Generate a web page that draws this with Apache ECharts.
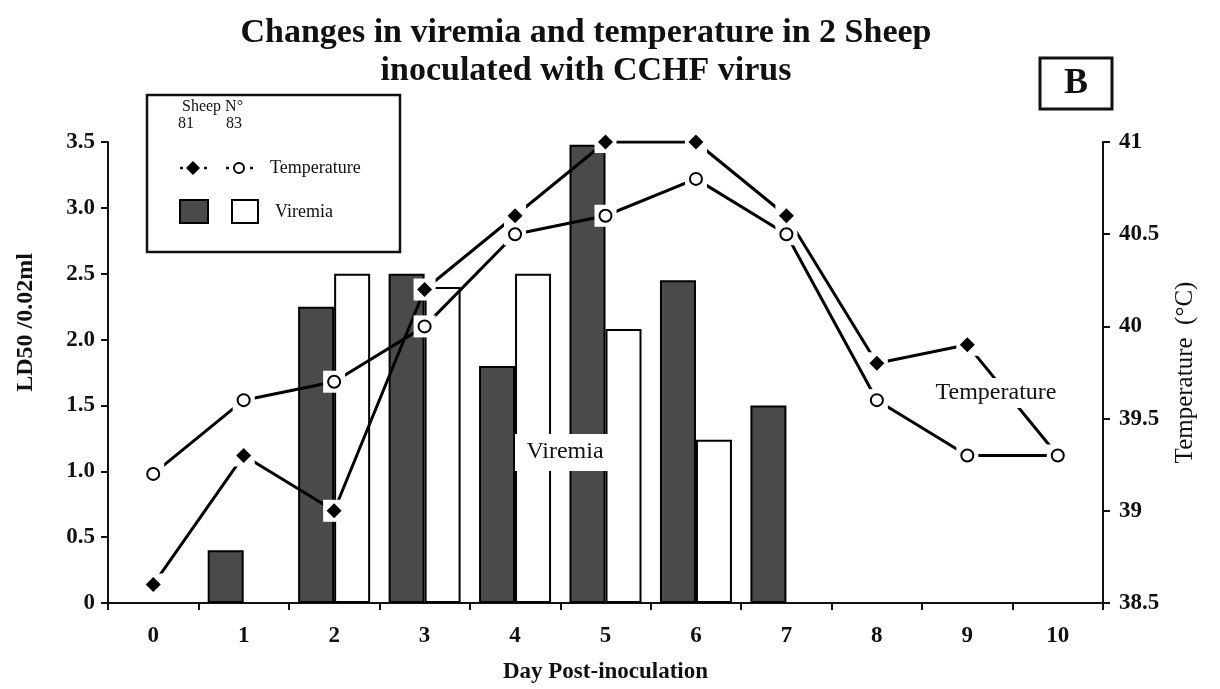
<!DOCTYPE html>
<html><head><meta charset="utf-8">
<script src="https://cdn.jsdelivr.net/npm/echarts@6/dist/echarts.min.js"></script>
<style>html,body{margin:0;padding:0;background:#fff}#c{width:1220px;height:689px}</style>
</head><body><div id="c"></div>
<script>
// ---- data ----
const days = ['0','1','2','3','4','5','6','7','8','9','10'];
const viremia81 = [null,0.4,2.25,2.5,1.8,3.48,2.45,1.5,null,null,null];
const viremia83 = [null,null,2.5,2.4,2.5,2.08,1.24,null,null,null,null];
const temp81 = [38.6,39.3,39.0,40.2,40.6,41.0,41.0,40.6,39.8,39.9,39.3];
const temp83 = [39.2,39.6,39.7,40.0,40.5,40.6,40.8,40.5,39.6,39.3,39.3];
const temp81Marked = [true,true,true,true,true,true,true,true,true,true,false];
const titleText = 'Changes in viremia and temperature in 2 Sheep\ninoculated with CCHF virus';

const serif = "'Liberation Serif','Times New Roman',serif";
const chart = echarts.init(document.getElementById('c'), null, {renderer:'canvas'});

const pairs = arr => arr.map((v,i)=>[days[i], v]);

const option = {
  backgroundColor:'#fff',
  animation:false,
  title:{
    text:titleText, left:581, top:9, textAlign:'center',
    textStyle:{fontFamily:serif, fontWeight:'bold', fontSize:34, lineHeight:38, color:'#111'}
  },
  grid:{left:108, right:117, top:142, bottom:81, containLabel:false},
  xAxis:{
    type:'category', data:days, boundaryGap:true,
    name:'Day Post-inoculation', nameLocation:'middle', nameGap:58,
    nameTextStyle:{fontFamily:serif, fontWeight:'bold', fontSize:23, color:'#111'},
    axisLine:{lineStyle:{color:'#111', width:2}},
    axisTick:{show:true, length:7, lineStyle:{color:'#111', width:2}},
    axisLabel:{fontFamily:serif, fontWeight:'bold', fontSize:23, color:'#111', margin:22},
    splitLine:{show:false}
  },
  yAxis:[{
    type:'value', min:0, max:3.5, interval:0.5, position:'left',
    name:'LD50 /0.02ml', nameLocation:'middle', nameGap:70, nameRotate:90,
    nameTextStyle:{fontFamily:serif, fontWeight:'bold', fontSize:24, color:'#111', padding:[0,0,0,100]},
    axisLine:{show:true, lineStyle:{color:'#111', width:2}},
    axisTick:{show:true, length:7, lineStyle:{color:'#111', width:2}},
    axisLabel:{fontFamily:serif, fontWeight:'bold', fontSize:23, color:'#111', margin:13,
      formatter:v=> v===0 ? '0' : v.toFixed(1)},
    splitLine:{show:false}
  },{
    type:'value', min:38.5, max:41, interval:0.5, position:'right',
    name:'Temperature  (°C)', nameLocation:'middle', nameGap:70, nameRotate:90,
    nameTextStyle:{fontFamily:serif, fontSize:25, color:'#111'},
    axisLine:{show:true, lineStyle:{color:'#111', width:2}},
    axisTick:{show:true, length:7, lineStyle:{color:'#111', width:2}},
    axisLabel:{fontFamily:serif, fontWeight:'bold', fontSize:23, color:'#111', margin:16},
    splitLine:{show:false}
  }],
  series:[
    {name:'Viremia 81', type:'bar', data:viremia81, barWidth:36, barGap:'0%', z:2,
     itemStyle:{color:'#4a4a4a', borderColor:'#000', borderWidth:2}},
    {name:'Viremia 83', type:'bar', data:viremia83, barWidth:36, barGap:'0%', z:2,
     itemStyle:{color:'#fff', borderColor:'#000', borderWidth:2}},
    {name:'Temperature 81', type:'line', yAxisIndex:1, data:temp81, showSymbol:false, z:3,
     lineStyle:{color:'#000', width:3}},
    {name:'Temperature 83', type:'line', yAxisIndex:1, data:temp83, showSymbol:false, z:3,
     lineStyle:{color:'#000', width:3}},
    {name:'halo81', type:'scatter', yAxisIndex:1, z:4, silent:true, symbol:'rect', symbolSize:[22,22],
     data:pairs(temp81).filter((p,i)=>temp81Marked[i]), itemStyle:{color:'#fff', opacity:1}},
    {name:'halo83', type:'scatter', yAxisIndex:1, z:4, silent:true, symbol:'rect', symbolSize:[22,22],
     data:pairs(temp83), itemStyle:{color:'#fff', opacity:1}},
    {name:'Sheep 81 temp', type:'scatter', yAxisIndex:1, z:5, symbol:'diamond', symbolSize:[15,15],
     data:pairs(temp81).filter((p,i)=>temp81Marked[i]), itemStyle:{color:'#000', opacity:1}},
    {name:'Sheep 83 temp', type:'scatter', yAxisIndex:1, z:5, symbol:'circle', symbolSize:12,
     data:pairs(temp83), itemStyle:{color:'#fff', borderColor:'#000', borderWidth:2, opacity:1}}
  ],
  graphic:[
    // panel letter
    {type:'rect', shape:{x:1040, y:58, width:72, height:51}, style:{fill:'#fff', stroke:'#111', lineWidth:3}, z:10},
    {type:'text', x:1076, y:84, style:{text:'B', font:"bold 36px "+serif, fill:'#111', textAlign:'center', textVerticalAlign:'middle'}, z:11},
    // legend box
    {type:'rect', shape:{x:147, y:95, width:253, height:157}, style:{fill:'#fff', stroke:'#111', lineWidth:2.5}, z:10},
    {type:'text', x:182, y:107, style:{text:'Sheep N°', font:"16px "+serif, fill:'#111', textVerticalAlign:'middle'}, z:11},
    {type:'text', x:178, y:124, style:{text:'81', font:"16px "+serif, fill:'#111', textVerticalAlign:'middle'}, z:11},
    {type:'text', x:226, y:124, style:{text:'83', font:"16px "+serif, fill:'#111', textVerticalAlign:'middle'}, z:11},
    {type:'line', shape:{x1:180, y1:168, x2:208, y2:168}, style:{stroke:'#111', lineWidth:2.5, lineDash:[3,9]}, z:11},
    {type:'polygon', shape:{points:[[193,161],[200,168],[193,175],[186,168]]}, style:{fill:'#000'}, z:12},
    {type:'line', shape:{x1:226, y1:168, x2:254, y2:168}, style:{stroke:'#111', lineWidth:2.5, lineDash:[3,9]}, z:11},
    {type:'circle', shape:{cx:239, cy:168, r:5}, style:{fill:'#fff', stroke:'#000', lineWidth:2}, z:12},
    {type:'text', x:270, y:168, style:{text:'Temperature', font:"18px "+serif, fill:'#111', textVerticalAlign:'middle'}, z:11},
    {type:'rect', shape:{x:180, y:200, width:28, height:23}, style:{fill:'#4a4a4a', stroke:'#000', lineWidth:2}, z:11},
    {type:'rect', shape:{x:232, y:200, width:26, height:23}, style:{fill:'#fff', stroke:'#000', lineWidth:2}, z:11},
    {type:'text', x:275, y:212, style:{text:'Viremia', font:"18px "+serif, fill:'#111', textVerticalAlign:'middle'}, z:11},
    // in-plot labels
    {type:'rect', shape:{x:515, y:434, width:100, height:37}, style:{fill:'#fff'}, z:10},
    {type:'text', x:565, y:452, style:{text:'Viremia', font:"24px "+serif, fill:'#111', textAlign:'center', textVerticalAlign:'middle'}, z:11},
    {type:'rect', shape:{x:917, y:378, width:158, height:30}, style:{fill:'#fff'}, z:10},
    {type:'text', x:996, y:393, style:{text:'Temperature', font:"24px "+serif, fill:'#111', textAlign:'center', textVerticalAlign:'middle'}, z:11}
  ]
};
chart.setOption(option);
</script>
</body></html>
